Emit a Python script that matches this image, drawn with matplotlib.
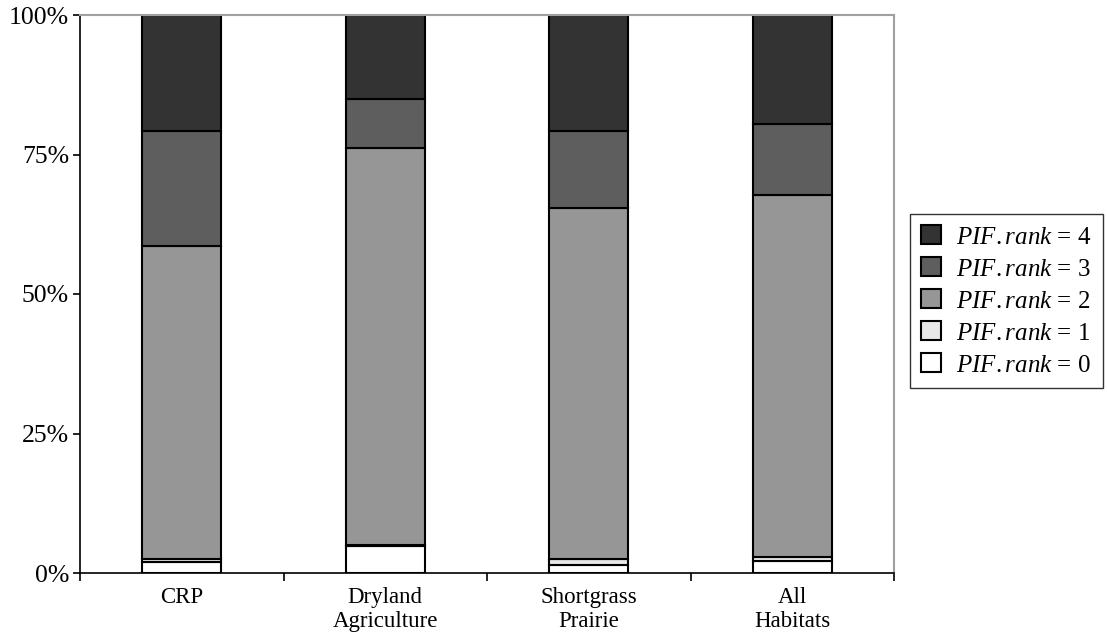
import matplotlib
matplotlib.use("Agg")
import matplotlib.pyplot as plt
import numpy as np

categories = ["CRP", "Dryland\nAgriculture", "Shortgrass\nPrairie", "All\nHabitats"]
rank_labels = ["0", "1", "2", "3", "4"]
# percentage share of each PIF rank per habitat
pif0 = [2.0, 4.8, 1.4, 2.15]
pif1 = [0.5, 0.25, 1.1, 0.75]
pif2 = [56.1, 71.2, 62.9, 64.8]
pif3 = [20.6, 8.7, 13.8, 12.8]
pif4 = [20.8, 15.05, 20.8, 19.5]
yticks = [0, 25, 50, 75, 100]
ytick_labels = ["0%", "25%", "50%", "75%", "100%"]

colors = ["#ffffff", "#e8e8e8", "#969696", "#5e5e5e", "#333333"]

plt.rcParams["font.family"] = ["Liberation Serif", "DejaVu Serif"]
plt.rcParams["mathtext.fontset"] = "custom"
plt.rcParams["mathtext.it"] = "Liberation Serif:italic"
plt.rcParams["mathtext.rm"] = "Liberation Serif"

fig = plt.figure(figsize=(11.07, 6.43), dpi=100)
ax = fig.add_axes([80/1107, 70/643, (894-80)/1107, (573-15)/643])

x = np.arange(len(categories)) + 0.5
series = [pif0, pif1, pif2, pif3, pif4]
bottom = np.zeros(len(categories))
handles = []
for vals, col, lab in zip(series, colors, rank_labels):
    b = ax.bar(x, vals, width=0.39, bottom=bottom, color=col, edgecolor="black",
               linewidth=1.5, label=r"$\mathit{PIF{.}rank}$ = " + lab)
    handles.append(b)
    bottom += np.array(vals)

ax.set_xlim(0, 4)
ax.set_ylim(0, 100)
ax.set_yticks(yticks)
ax.set_yticklabels(ytick_labels, fontsize=18.5)
ax.set_xticks([0, 1, 2, 3, 4])
ax.set_xticklabels([])
ax.set_xticks(x, minor=True)
ax.set_xticklabels(categories, minor=True, fontsize=16.5, linespacing=1.2)
ax.tick_params(axis="x", which="minor", length=0, pad=10)
ax.tick_params(axis="x", which="major", length=6, width=1.2, direction="out")
ax.tick_params(axis="y", length=5, width=1.2, direction="out", pad=3)
for s in ["left", "bottom"]:
    ax.spines[s].set_color("black")
    ax.spines[s].set_linewidth(1.2)
for s in ["top", "right"]:
    ax.spines[s].set_color("#a0a0a0")
    ax.spines[s].set_linewidth(1.5)

leg = fig.legend(handles[::-1], [h.get_label() for h in handles[::-1]],
                 loc="upper left", bbox_to_anchor=(910/1107, 1 - 214/643),
                 fontsize=18, frameon=True, fancybox=False, edgecolor="black",
                 handlelength=0.8, handleheight=0.8, handletextpad=0.6,
                 labelspacing=0.35, borderpad=0.45, borderaxespad=0)
leg.get_frame().set_linewidth(1.0)

fig.savefig("out.png", dpi=100)
